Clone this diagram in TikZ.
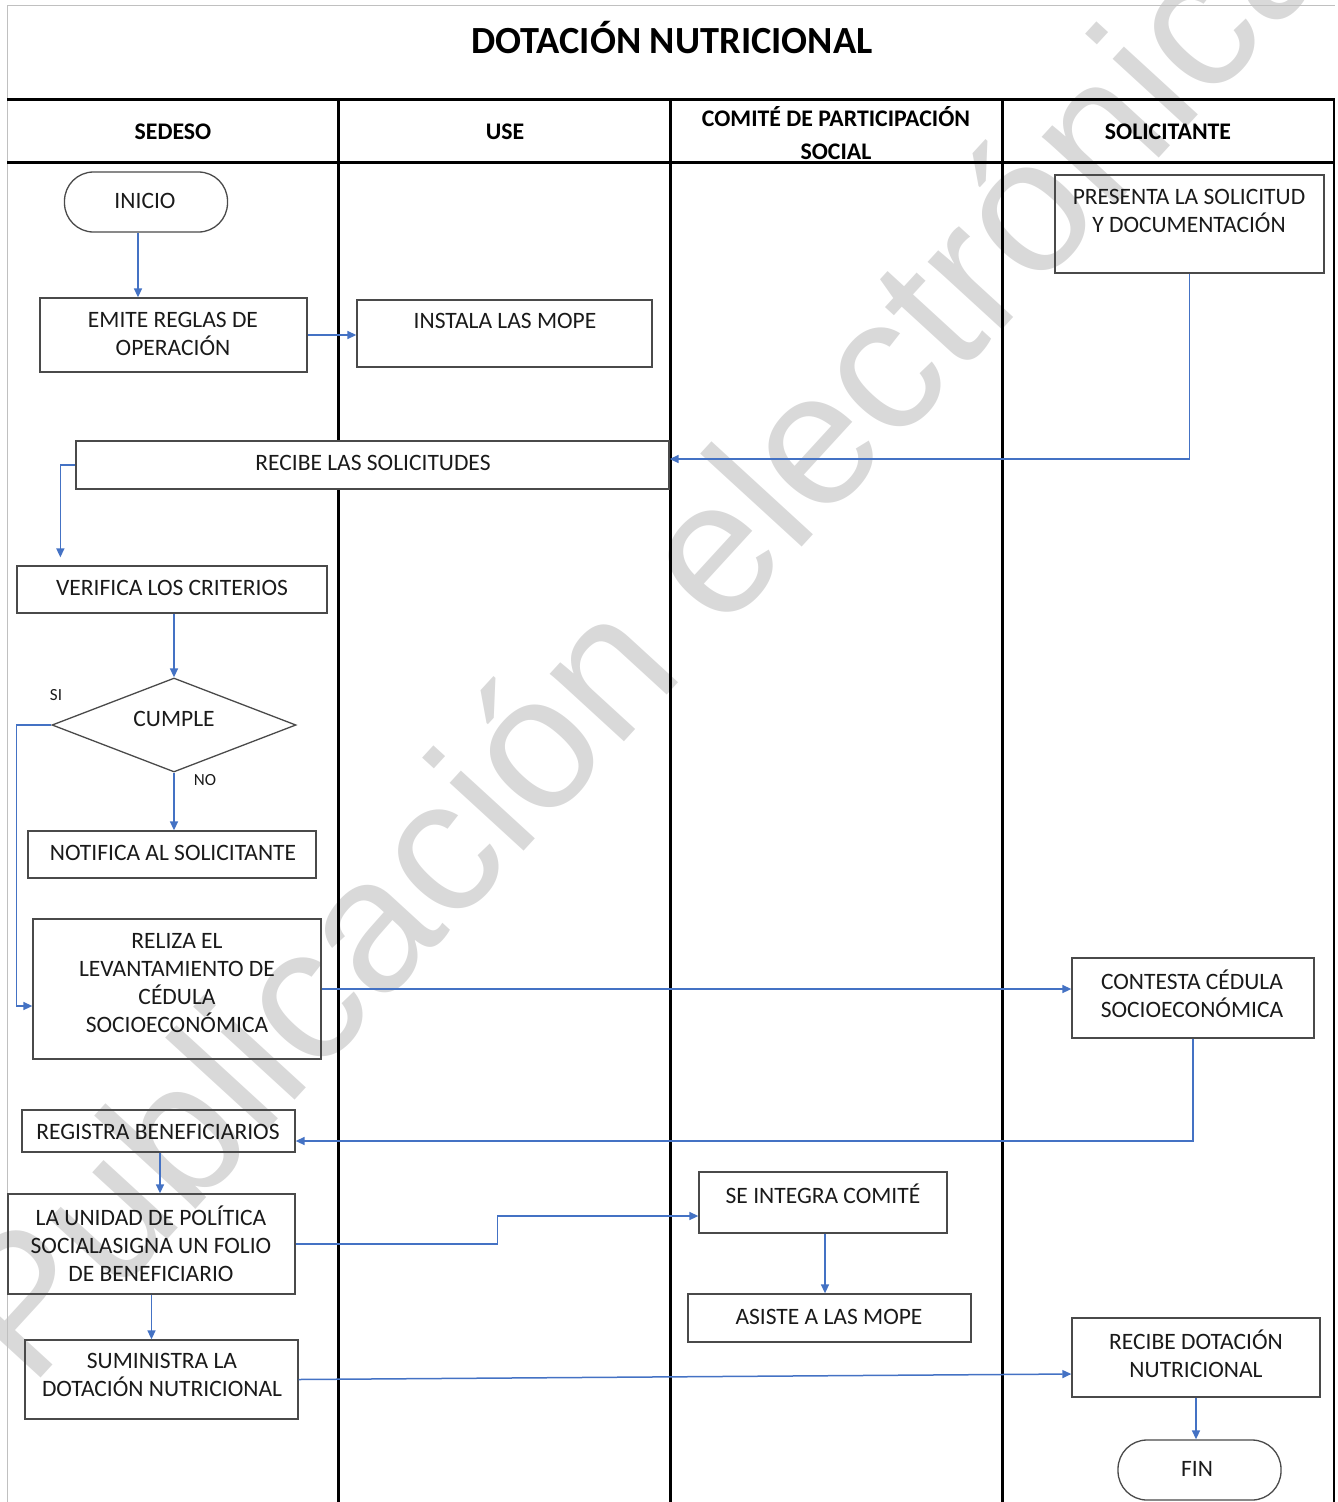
\documentclass[tikz,border=0pt]{standalone}
\usepackage{fontspec}
\setmainfont{Carlito}
\newfontfamily\wmfont{Liberation Sans}
\usetikzlibrary{arrows.meta,shapes.geometric}
\definecolor{arrowblue}{HTML}{4472C4}
\definecolor{boxgray}{HTML}{4A4A4A}
\definecolor{txt}{HTML}{1A1A1A}
\definecolor{wmgray}{HTML}{D9D9D9}
\definecolor{framegray}{HTML}{C0C0C0}
\begin{document}
\begin{tikzpicture}[x=1pt,y=-1pt,
  box/.style={draw=boxgray, line width=1.3pt, inner sep=0pt, rectangle},
  term/.style={box, rounded corners=29pt},
  lbl/.style={font=\fontsize{23.5}{28}\selectfont, text=txt, align=center, inner sep=0pt},
  small/.style={font=\fontsize{17}{20}\selectfont, text=txt, inner sep=0pt},
  hdr/.style={font=\bfseries\fontsize{23.8}{33}\selectfont, text=black, align=center, inner sep=0pt},
  ttl/.style={font=\bfseries\fontsize{38.4}{42}\selectfont, text=black, inner sep=0pt},
  wm/.style={font=\wmfont\fontsize{190}{190}\selectfont, text=wmgray, inner sep=0pt},
  arr/.style={draw=arrowblue, line width=1.5pt, -{Triangle[length=9pt,width=8pt]}},
  lane/.style={line width=3pt, draw=black},
]
\useasboundingbox (0,0) rectangle (1338,1502);
% watermark
\begin{scope}
\clip (0,0) rectangle (1338,1502);
\node[wm, rotate=47.5, anchor=base west] (wmark) at (30,1390) {Publicación electrónica};
\end{scope}
% frame and lanes
\draw[framegray, line width=1pt] (7,1502) -- (7,5) -- (1335,5);
\draw[lane] (7,99) -- (1335,99);
\draw[lane] (7,162) -- (1335,162);
\draw[lane] (338,99) -- (338,1502);
\draw[lane] (670,99) -- (670,1502);
\draw[lane] (1002,99) -- (1002,1502);
\draw[lane, line width=2.5pt] (1334,99) -- (1334,1502);
% title and headers
\node[ttl] (title) at (672,38) {DOTACIÓN NUTRICIONAL};
\node[hdr] (h1) at (173,132) {SEDESO};
\node[hdr] (h2) at (505,132) {USE};
\node[hdr] (h3) at (836,133) {COMITÉ DE PARTICIPACIÓN\\SOCIAL};
\node[hdr] (h4) at (1168,132) {SOLICITANTE};
% shapes
\node[term, minimum width=163pt, minimum height=60pt] (inicio) at (146,202) {};
\node[box, minimum width=267pt, minimum height=74pt] (emite) at (173.5,335) {};
\node[box, minimum width=295pt, minimum height=67pt] (instala) at (504.5,333.5) {};
\node[box, fill=white, minimum width=593pt, minimum height=48pt] (recibe) at (372.5,465) {};
\node[box, minimum width=310pt, minimum height=47pt] (verifica) at (172,589.5) {};
\node[diamond, draw=boxgray, line width=1.3pt, inner sep=0pt, minimum width=244pt, minimum height=94pt] (cumple) at (174,725) {};
\node[box, minimum width=288pt, minimum height=47pt] (notifica) at (172,854.5) {};
\node[box, minimum width=288pt, minimum height=140pt] (reliza) at (177,989) {};
\node[box, minimum width=273pt, minimum height=42pt] (registra) at (158.5,1131) {};
\node[box, minimum width=287pt, minimum height=100pt] (unidad) at (151.5,1244) {};
\node[box, minimum width=273pt, minimum height=79pt] (suministra) at (161.5,1379.5) {};
\node[box, minimum width=269pt, minimum height=98pt] (presenta) at (1189.5,224) {};
\node[box, minimum width=242pt, minimum height=80pt] (contesta) at (1193,998) {};
\node[box, minimum width=248pt, minimum height=61pt] (integra) at (823,1202.5) {};
\node[box, minimum width=283pt, minimum height=48pt] (asiste) at (829.5,1318) {};
\node[box, minimum width=248pt, minimum height=79pt] (recibedot) at (1196,1357.5) {};
\node[term, minimum width=163pt, minimum height=60pt] (fin) at (1199.5,1470) {};
% texts
\node[lbl] (t-inicio) at (145,201) {INICIO};
\node[lbl] (t-emite) at (173,334) {EMITE REGLAS DE\\OPERACIÓN};
\node[lbl] (t-instala) at (505,321) {INSTALA LAS MOPE};
\node[lbl] (t-recibe) at (373,463) {RECIBE LAS SOLICITUDES};
\node[lbl] (t-verifica) at (172,588) {VERIFICA LOS CRITERIOS};
\node[lbl] (t-cumple) at (174,719) {CUMPLE};
\node[small] (t-si) at (56,695) {SI};
\node[small] (t-no) at (205,780) {NO};
\node[lbl] (t-notifica) at (173,853) {NOTIFICA AL SOLICITANTE};
\node[lbl] (t-reliza) at (177,983) {RELIZA EL\\LEVANTAMIENTO DE\\CÉDULA\\SOCIOECONÓMICA};
\node[lbl] (t-registra) at (158,1132) {REGISTRA BENEFICIARIOS};
\node[lbl] (t-unidad) at (151,1244) {LA UNIDAD DE POLÍTICA\\SOCIALASIGNA UN FOLIO\\DE BENEFICIARIO};
\node[lbl] (t-suministra) at (162,1375) {SUMINISTRA LA\\DOTACIÓN NUTRICIONAL};
\node[lbl] (t-presenta) at (1189,211) {PRESENTA LA SOLICITUD\\Y DOCUMENTACIÓN};
\node[lbl] (t-contesta) at (1192,994) {CONTESTA CÉDULA\\SOCIOECONÓMICA};
\node[lbl] (t-integra) at (823,1194) {SE INTEGRA COMITÉ};
\node[lbl] (t-asiste) at (829,1317) {ASISTE A LAS MOPE};
\node[lbl] (t-recibedot) at (1196,1354) {RECIBE DOTACIÓN\\NUTRICIONAL};
\node[lbl] (t-fin) at (1197,1469) {FIN};
% connectors
\draw[arr] ([xshift=-8pt]inicio.south) -- ([xshift=-8pt]inicio.south |- emite.north);
\draw[arr] (emite.east) -- (emite.east -| instala.west);
\draw[arr] (presenta.south) |- ([yshift=6pt]recibe.east);
\draw[arr] (recibe.west) -| ([xshift=44pt,yshift=8pt]verifica.north west);
\draw[arr] (verifica.south -| cumple.north) -- (cumple.north);
\draw[arr] (cumple.south) -- (cumple.south |- notifica.north);
\draw[arr] (cumple.west) -- ++(-35,0) |- ([yshift=-17pt]reliza.west);
\draw[arr] (reliza.east) -- (reliza.east -| contesta.west);
\draw[arr] (contesta.south) |- ([yshift=-10pt]registra.east);
\draw[arr] ([xshift=1.5pt]registra.south) -- ([xshift=1.5pt]registra.south |- unidad.north);
\draw[arr] (unidad.east) -- ++(202,0) |- ([yshift=-13.5pt]integra.west);
\draw[arr] ([xshift=2pt]integra.south) -- ([xshift=2pt]integra.south |- asiste.north);
\draw[arr] (unidad.south) -- (unidad.south |- suministra.north);
\draw[arr] (suministra.east) -- ([yshift=-16.5pt]recibedot.west);
\draw[arr] (recibedot.south) -- (recibedot.south |- fin.north);
\end{tikzpicture}
\end{document}
